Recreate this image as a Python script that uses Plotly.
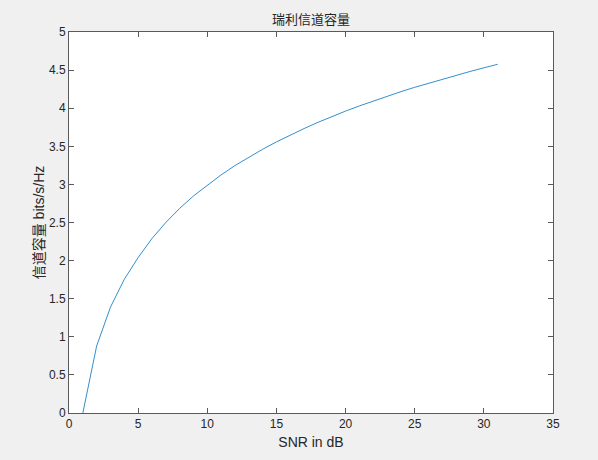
import plotly.graph_objects as go

snr_db = list(range(1, 32))
capacity = [0.0, 0.88, 1.39, 1.755, 2.04, 2.29, 2.50, 2.685, 2.848, 2.99,
            3.125, 3.247, 3.358, 3.461, 3.558, 3.648, 3.733, 3.814, 3.89, 3.962,
            4.03, 4.095, 4.158, 4.217, 4.274, 4.328, 4.381, 4.432, 4.482, 4.53, 4.576]

x_ticks = [0, 5, 10, 15, 20, 25, 30, 35]
y_ticks = [0, 0.5, 1, 1.5, 2, 2.5, 3, 3.5, 4, 4.5, 5]
y_tick_labels = ["0", "0.5", "1", "1.5", "2", "2.5", "3", "3.5", "4", "4.5", "5"]

FONT = "Liberation Sans, Arial, Noto Sans CJK SC, sans-serif"
AX = "#5a5a5a"

fig = go.Figure()
fig.add_trace(go.Scatter(x=snr_db, y=capacity, mode="lines",
                         line=dict(color="#0072BD", width=0.8), showlegend=False))

axis_common = dict(showline=True, linecolor=AX, linewidth=1, mirror="ticks",
                   ticks="inside", ticklen=5, tickcolor=AX, showgrid=False,
                   zeroline=False, tickfont=dict(family=FONT, size=12, color="#262626"))

fig.update_layout(
    width=598, height=460,
    paper_bgcolor="#f0f0f0", plot_bgcolor="#ffffff",
    margin=dict(l=69, r=45, t=32, b=47),
    font=dict(family=FONT, color="#262626"),
    title=dict(text="瑞利信道容量", x=0.5, xanchor="center", y=0.958, yanchor="middle",
               xref="paper", font=dict(family="Noto Sans CJK SC, sans-serif", size=13, color="#262626")),
    xaxis=dict(range=[0, 35], tickvals=x_ticks, ticktext=[str(v) for v in x_ticks],
               title=dict(text="SNR in dB", standoff=6, font=dict(family=FONT, size=14)),
               **axis_common),
    yaxis=dict(range=[0, 5], tickvals=y_ticks, ticktext=y_tick_labels,
               title=dict(text="信道容量 bits/s/Hz", standoff=1,
                          font=dict(family="Liberation Sans, Noto Sans CJK SC, sans-serif", size=14)),
               **axis_common),
)

fig.write_html("out.html", config={"displayModeBar": False},
               post_script="document.body.style.margin='0';document.body.style.background='#f0f0f0';")
